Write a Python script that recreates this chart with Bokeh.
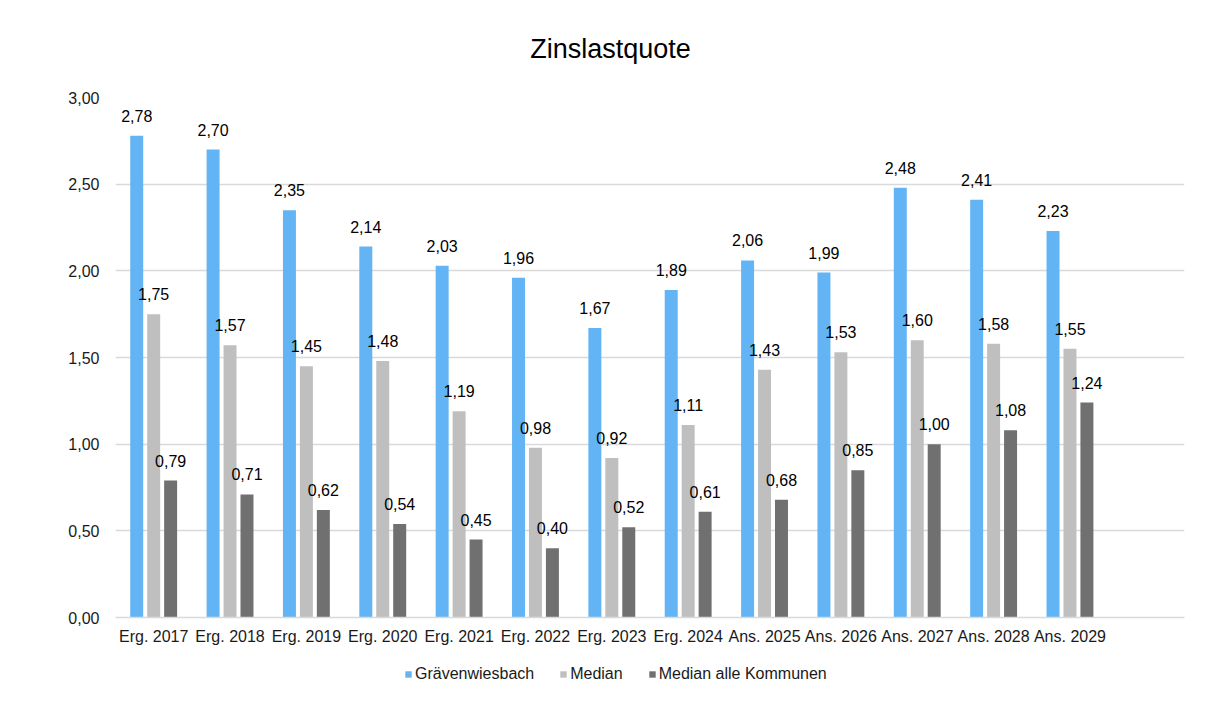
from bokeh.plotting import figure
from bokeh.layouts import column
from bokeh.models import ColumnDataSource, FactorRange, Range1d, LabelSet, Label, Legend, LegendItem, CustomJSTickFormatter, SingleIntervalTicker
from bokeh.core.properties import value
from bokeh.transform import dodge
from bokeh.embed import file_html
from bokeh.resources import INLINE

categories = ["Erg. 2017", "Erg. 2018", "Erg. 2019", "Erg. 2020", "Erg. 2021", "Erg. 2022",
              "Erg. 2023", "Erg. 2024", "Ans. 2025", "Ans. 2026", "Ans. 2027", "Ans. 2028", "Ans. 2029"]
graevenwiesbach = [2.78, 2.70, 2.35, 2.14, 2.03, 1.96, 1.67, 1.89, 2.06, 1.99, 2.48, 2.41, 2.23]
median = [1.75, 1.57, 1.45, 1.48, 1.19, 0.98, 0.92, 1.11, 1.43, 1.53, 1.60, 1.58, 1.55]
median_alle = [0.79, 0.71, 0.62, 0.54, 0.45, 0.40, 0.52, 0.61, 0.68, 0.85, 1.00, 1.08, 1.24]
series_names = ["Grävenwiesbach", "Median", "Median alle Kommunen"]
colors = ["#63B4F5", "#BFBFBF", "#707070"]
title_text = "Zinslastquote"

FONT = "Liberation Sans"
TXT = "#1a1a1a"
LEFT, FW, RIGHT = 115, 1069, 22

def fmt(v):
    return f"{v:.2f}".replace(".", ",")

src = ColumnDataSource(dict(
    cat=categories,
    g=graevenwiesbach, m=median, a=median_alle,
    gl=[fmt(v) for v in graevenwiesbach],
    ml=[fmt(v) for v in median],
    al=[fmt(v) for v in median_alle],
))

# one empty slot at the right end, as in the original plot area
xr = FactorRange(factors=categories + [" "], range_padding=0)

def strip(h, y_range):
    f = figure(x_range=xr, y_range=y_range, frame_width=FW, frame_height=h,
               output_backend="svg", toolbar_location=None,
               x_axis_location=None, y_axis_location=None,
               min_border_left=LEFT, min_border_right=RIGHT, min_border_top=0, min_border_bottom=0)
    f.outline_line_color = None
    f.xgrid.grid_line_color = None
    f.ygrid.grid_line_color = None
    return f

# ---- title strip
tf = strip(89, Range1d(0, 1))
tf.add_layout(Label(x=495, y=41, x_units="screen", y_units="screen", text=title_text,
                    text_align="center", text_baseline="middle",
                    text_font=FONT, text_font_size="27px", text_color="#000000"))

# ---- main chart
p = figure(x_range=xr, y_range=Range1d(0, 3.0),
           frame_width=FW, frame_height=520, output_backend="svg", toolbar_location=None,
           min_border_left=LEFT, min_border_right=RIGHT, min_border_top=8, min_border_bottom=40)
p.outline_line_color = None

offsets = [-0.222, 0.0, 0.222]
fields = ["g", "m", "a"]
lfields = ["gl", "ml", "al"]
for off, f, lf, c in zip(offsets, fields, lfields, colors):
    p.vbar(x=dodge("cat", off, range=p.x_range), top=f, width=0.17, source=src,
           fill_color=c, line_color=None)
    p.add_layout(LabelSet(x=dodge("cat", off, range=p.x_range), y=f, text=lf, source=src,
                          text_align="center", text_baseline="alphabetic", y_offset=14,
                          text_font=value(FONT), text_font_size="16px", text_color="#000000"))

p.xgrid.grid_line_color = None
p.ygrid.grid_line_color = "#D9D9D9"
p.ygrid.grid_line_width = 1.5
p.yaxis.ticker = SingleIntervalTicker(interval=0.5)
p.yaxis.formatter = CustomJSTickFormatter(code="return tick.toFixed(2).replace('.', ',');")
p.yaxis.axis_line_color = None
p.yaxis.major_tick_line_color = None
p.yaxis.minor_tick_line_color = None
p.yaxis.major_label_text_font = FONT
p.yaxis.major_label_text_font_size = "16px"
p.yaxis.major_label_text_color = TXT
p.yaxis.major_label_standoff = 10

p.xaxis.axis_line_color = "#D9D9D9"
p.xaxis.axis_line_width = 1.5
p.xaxis.major_tick_line_color = None
p.xaxis.minor_tick_line_color = None
p.xaxis.major_label_text_font = FONT
p.xaxis.major_label_text_font_size = "16px"
p.xaxis.major_label_text_color = TXT
p.xaxis.major_label_standoff = 4

# ---- legend strip: same bars, drawn far out of view, only to feed the legend
lg = strip(40, Range1d(10, 11))
items = []
for off, f, n, c in zip(offsets, fields, series_names, colors):
    r = lg.vbar(x=dodge("cat", off, range=xr), top=f, width=0.17, source=src,
                fill_color=c, line_color=None)
    items.append(LegendItem(label=n, renderers=[r]))
legend = Legend(items=items, orientation="horizontal", location=(289, 14),
                label_text_font=FONT, label_text_font_size="16px", label_text_color=TXT,
                glyph_width=8, glyph_height=8, label_standoff=3, spacing=25, label_height=18,
                border_line_color=None, background_fill_alpha=0,
                margin=0, padding=0)
lg.add_layout(legend, "center")

layout = column(tf, p, lg, spacing=0)
open("out.html", "w").write(file_html(layout, INLINE))
